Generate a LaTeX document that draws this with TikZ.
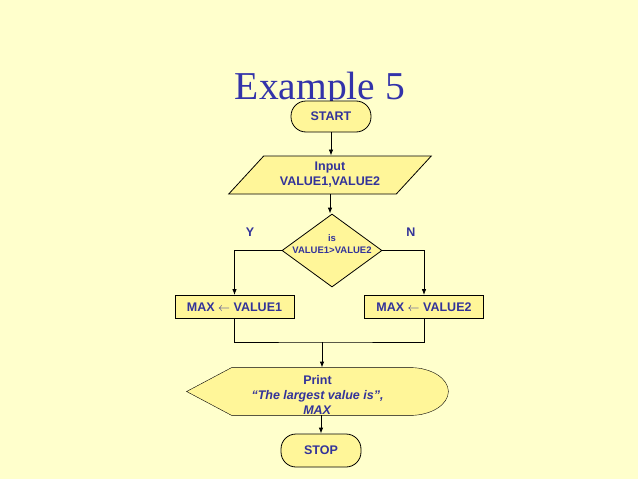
\documentclass[tikz,border=0pt]{standalone}
\usepackage{fontspec}
\setmainfont{Liberation Sans}
\newfontfamily\titlefont{Liberation Serif}
\usetikzlibrary{shapes.geometric,arrows.meta,backgrounds,calc}
\definecolor{slidebg}{RGB}{255,255,204}
\definecolor{boxfill}{RGB}{255,246,153}
\definecolor{inkblue}{RGB}{51,51,153}
\definecolor{titleblue}{RGB}{51,51,170}
\begin{document}
\begin{tikzpicture}[x=1pt, y=-1pt, line width=0.8pt,
    txt/.style={font=\bfseries\fontsize{12.5}{15}\selectfont, text=inkblue, align=center, inner sep=0pt},
    smalltxt/.style={txt, font=\bfseries\fontsize{9.5}{12}\selectfont},
    terminal/.style={txt, draw, fill=boxfill, rounded corners=15pt, minimum width=80pt, minimum height=31pt},
    io/.style={txt, draw, fill=boxfill, trapezium, trapezium left angle=44, trapezium right angle=136,
      trapezium stretches=true, minimum width=203pt, minimum height=38pt},
    decision/.style={draw, fill=boxfill, diamond, inner sep=0pt, minimum width=100pt, minimum height=73pt},
    process/.style={txt, draw, fill=boxfill, minimum width=119pt, minimum height=23pt},
    flow/.style={-{Latex[length=6pt,width=4.5pt]}}]
  \useasboundingbox (0,0) rectangle (638,479);

  % title
  \node[anchor=base, text=titleblue, font=\titlefont\fontsize{39.5}{40}\selectfont, inner sep=0pt]
    (title) at (320,99) {Example 5};

  % flowchart
  \node[terminal] (start) at (331,116.5) {START};
  \node[io] (inp) at (330,175) {Input\\VALUE1,VALUE2};
  \node[decision, label={[smalltxt, yshift=6pt]center:{is\\VALUE1>VALUE2}}] (cmp) at (332,250.5) {};
  \node[txt] (yes) at (250,232) {Y};
  \node[txt] (no) at (411,232) {N};
  \node[process] (max1) at (234.5,307) {MAX $\leftarrow$ VALUE1};
  \node[process] (max2) at (424,307) {MAX $\leftarrow$ VALUE2};
  \coordinate (merge) at (322,342);
  \node[minimum width=261pt, minimum height=47pt, inner sep=0pt,
    label={[txt, yshift=-3pt]center:{Print\\\textit{“The largest value is”,}\\\textit{MAX}}}]
    (out) at (317.5,391.5) {};
  \node[terminal, minimum height=33pt] (stop) at (321,450.5) {STOP};

  \begin{scope}[on background layer]
    \fill[slidebg] (0,0) rectangle (638,479);
    \draw[fill=boxfill] (out.west) -- ($(out.north west)+(45,0)$) -- ($(out.north east)+(-38,0)$)
      .. controls +(21,0) and +(0,-13) .. (out.east)
      .. controls +(0,13) and +(21,0) .. ($(out.south east)+(-38,0)$)
      -- ($(out.south west)+(45,0)$) -- cycle;
  \end{scope}

  \draw[flow] (start.south) -- (start.south |- inp.north);
  \draw[flow] (inp.south) -- (inp.south |- cmp.north);
  \draw[flow] (cmp.west) -| (max1.north);
  \draw[flow] (cmp.east) -| (max2.north);
  \draw (max1.south) |- (merge) -| (max2.south);
  \draw[flow] (merge) -- (merge |- out.north);
  \draw[flow] (out.south -| stop) -- (stop.north);
\end{tikzpicture}
\end{document}
